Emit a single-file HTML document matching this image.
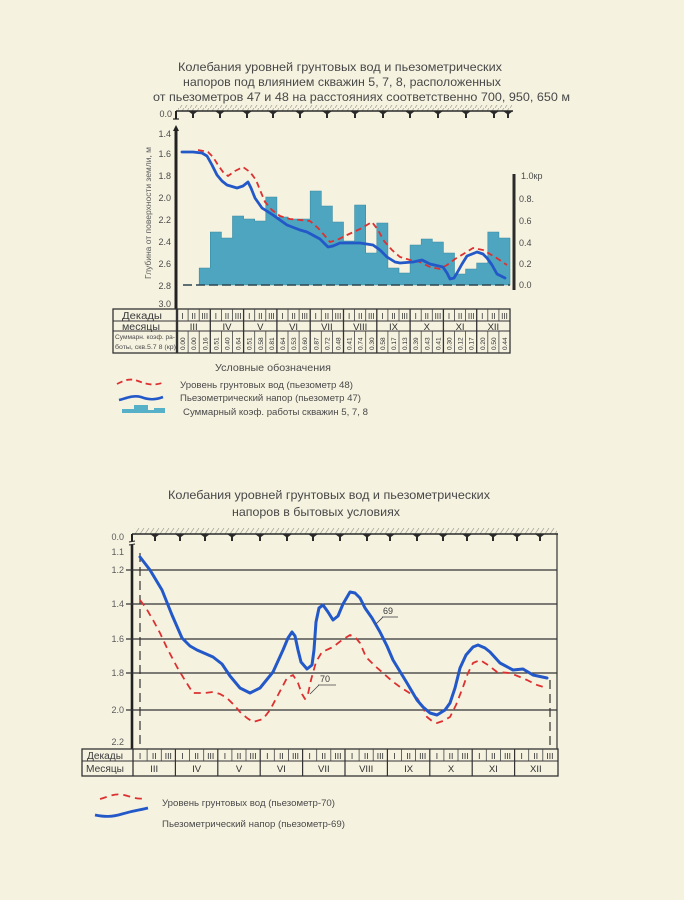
<!DOCTYPE html>
<html><head><meta charset="utf-8">
<style>
html,body{margin:0;padding:0;background:#f5f2e0;}
svg{display:block;}
text{font-family:"Liberation Sans","DejaVu Sans",sans-serif;}
</style></head>
<body>
<svg width="684" height="900" viewBox="0 0 684 900" xmlns="http://www.w3.org/2000/svg">
<defs>
<pattern id="hatch" width="5" height="6" patternUnits="userSpaceOnUse">
<path d="M0,6 L4,0" stroke="#a09e92" stroke-width="0.7"/>
</pattern>
</defs>
<rect x="0" y="0" width="684" height="900" fill="#f5f2e0"/>

<!-- ================= TOP TITLE ================= -->
<g fill="#484848" font-size="12">
<text x="178" y="71" textLength="324" lengthAdjust="spacingAndGlyphs">Колебания уровней грунтовых вод и  пьезометрических</text>
<text x="183" y="86" textLength="318" lengthAdjust="spacingAndGlyphs">напоров под влиянием  скважин 5, 7, 8, расположенных</text>
<text x="153" y="101" textLength="417" lengthAdjust="spacingAndGlyphs">от пьезометров 47 и 48  на расстояниях соответственно 700, 950, 650 м</text>
</g>

<!-- ================= TOP CHART ================= -->
<rect x="178" y="105" width="334" height="6" fill="url(#hatch)"/>
<line x1="176" y1="111" x2="513" y2="111" stroke="#2a2a2a" stroke-width="1.6"/>
<g fill="#2a2a2a">
<path d="M188,111 h10 l-4,3 v4 h-2 v-4 z"/>
<path d="M215,111 h10 l-4,3 v4 h-2 v-4 z"/>
<path d="M242,111 h10 l-4,3 v4 h-2 v-4 z"/>
<path d="M268,111 h10 l-4,3 v4 h-2 v-4 z"/>
<path d="M295,111 h10 l-4,3 v4 h-2 v-4 z"/>
<path d="M322,111 h10 l-4,3 v4 h-2 v-4 z"/>
<path d="M350,111 h10 l-4,3 v4 h-2 v-4 z"/>
<path d="M378,111 h10 l-4,3 v4 h-2 v-4 z"/>
<path d="M405,111 h10 l-4,3 v4 h-2 v-4 z"/>
<path d="M433,111 h10 l-4,3 v4 h-2 v-4 z"/>
<path d="M461,111 h10 l-4,3 v4 h-2 v-4 z"/>
<path d="M489,111 h10 l-4,3 v4 h-2 v-4 z"/>
<path d="M503,111 h10 l-4,3 v4 h-2 v-4 z"/>
</g>
<line x1="176" y1="111" x2="176" y2="119" stroke="#222" stroke-width="2"/>
<line x1="173" y1="119" x2="179" y2="119" stroke="#222" stroke-width="1.2"/>
<line x1="176" y1="130" x2="176" y2="309" stroke="#222" stroke-width="3"/>
<path d="M173,131 L176,125 L179,131 Z" fill="#222"/>
<g fill="#4a4a4a" font-size="9" text-anchor="end">
<text x="172" y="117">0.0</text>
<text x="171" y="137">1.4</text>
<text x="171" y="157">1.6</text>
<text x="171" y="179">1.8</text>
<text x="171" y="201">2.0</text>
<text x="171" y="223">2.2</text>
<text x="171" y="245">2.4</text>
<text x="171" y="267">2.6</text>
<text x="171" y="289">2.8</text>
<text x="171" y="307">3.0</text>
</g>
<text transform="translate(151,279) rotate(-90)" fill="#5a5a5a" font-size="8.5" textLength="132" lengthAdjust="spacingAndGlyphs">Глубина от поверхности земли, м</text>

<path d="M199.2,285 V268 H210.3 V232 H221.4 V238 H232.5 V216 H243.6 V219 H254.7 V221 H265.8 V197 H276.9 V217 H288 V219 H299.1 V219 H310.2 V191 H321.3 V206 H332.4 V222 H343.5 V241 H354.6 V205 H365.7 V253 H376.8 V223 H387.9 V268 H399 V273 H410.1 V245 H421.2 V239 H432.3 V242 H443.4 V253 H454.5 V274 H465.6 V269 H476.7 V263 H487.8 V232 H498.9 V238 H510 V285 Z" fill="#4ea5bf" stroke="#3a8aa3" stroke-width="0.6"/>
<line x1="183" y1="285" x2="510" y2="285" stroke="#2b4650" stroke-width="1.4" stroke-dasharray="9,4"/>

<rect x="512.5" y="174" width="3" height="116" fill="#2a2a2a"/>
<g fill="#4a4a4a" font-size="9">
<text x="521" y="179">1.0кр</text>
<text x="519" y="202">0.8.</text>
<text x="519" y="224">0.6</text>
<text x="519" y="246">0.4</text>
<text x="519" y="267">0.2</text>
<text x="519" y="288">0.0</text>
</g>

<polyline fill="none" stroke="#dd3030" stroke-width="1.8" stroke-dasharray="6,4" stroke-linejoin="round"
points="198,150 208,152 213,157 218,165 223,172 228,176 235,171 243,167 250,172 256,180 260,190 265,202 272,210 280,216 290,219 300,220 310,221 318,228 325,236 330,242 337,240 347,235 360,229 372,222 378,230 384,241 392,250 400,257 410,260 420,262 430,267 440,269 447,265 455,259 465,253 473,248 483,250 495,257 507,265"/>
<polyline fill="none" stroke="#2358c8" stroke-width="2.8" stroke-linejoin="round" stroke-linecap="round"
points="182,152 193,152 202,153 207,156 212,165 217,175 222,181 227,185 237,188 243,186 248,182 251,188 255,198 262,208 273,215 287,225 300,230 307,232 320,239 328,247 333,246 340,243 360,243 373,245 380,250 387,257 395,262 400,263 413,262 422,260 430,264 443,267 447,273 450,279 454,278 457,273 462,264 467,256 477,252 483,254 487,258 492,265 497,274 505,278"/>

<!-- ================= TOP TABLE ================= -->
<g stroke="#333" fill="none">
<rect x="113" y="309" width="397" height="44" stroke-width="1.3"/>
<line x1="113" y1="321" x2="510" y2="321" stroke-width="1"/>
<line x1="113" y1="331" x2="510" y2="331" stroke-width="1"/>
<line x1="177" y1="309" x2="177" y2="353" stroke-width="2.4"/>
</g>
<g stroke="#444" stroke-width="0.8">
<path d="M188.1,309V321M199.2,309V321M221.4,309V321M232.5,309V321M254.7,309V321M265.8,309V321M288,309V321M299.1,309V321M321.3,309V321M332.4,309V321M354.6,309V321M365.7,309V321M387.9,309V321M399,309V321M421.2,309V321M432.3,309V321M454.5,309V321M465.6,309V321M487.8,309V321M498.9,309V321"/>
<path d="M188.1,331V353M199.2,331V353M221.4,331V353M232.5,331V353M254.7,331V353M265.8,331V353M288,331V353M299.1,331V353M321.3,331V353M332.4,331V353M354.6,331V353M365.7,331V353M387.9,331V353M399,331V353M421.2,331V353M432.3,331V353M454.5,331V353M465.6,331V353M487.8,331V353M498.9,331V353"/>
</g>
<g stroke="#333" stroke-width="1.3">
<path d="M210.3,309V353M243.6,309V353M276.9,309V353M310.2,309V353M343.5,309V353M376.8,309V353M410.1,309V353M443.4,309V353M476.7,309V353"/>
</g>
<g fill="#3a3a3a" font-size="10">
<text x="122" y="319" textLength="40" lengthAdjust="spacingAndGlyphs">Декады</text>
<text x="122" y="330" textLength="38" lengthAdjust="spacingAndGlyphs">месяцы</text>
</g>
<g fill="#4a4a4a" font-size="6">
<text x="115" y="339" textLength="60" lengthAdjust="spacingAndGlyphs">Суммарн. коэф. ра-</text>
<text x="115" y="349" textLength="61" lengthAdjust="spacingAndGlyphs">боты, скв.5.7 8 (кр)</text>
</g>
<g fill="#2e2e2e" font-size="8" text-anchor="middle">
<text x="182.6" y="319">I</text><text x="193.7" y="319">II</text><text x="204.8" y="319">III</text>
<text x="215.9" y="319">I</text><text x="227" y="319">II</text><text x="238.1" y="319">III</text>
<text x="249.2" y="319">I</text><text x="260.3" y="319">II</text><text x="271.4" y="319">III</text>
<text x="282.5" y="319">I</text><text x="293.6" y="319">II</text><text x="304.7" y="319">III</text>
<text x="315.8" y="319">I</text><text x="326.9" y="319">II</text><text x="338" y="319">III</text>
<text x="349.1" y="319">I</text><text x="360.2" y="319">II</text><text x="371.3" y="319">III</text>
<text x="382.4" y="319">I</text><text x="393.5" y="319">II</text><text x="404.6" y="319">III</text>
<text x="415.7" y="319">I</text><text x="426.8" y="319">II</text><text x="437.9" y="319">III</text>
<text x="449" y="319">I</text><text x="460.1" y="319">II</text><text x="471.2" y="319">III</text>
<text x="482.3" y="319">I</text><text x="493.4" y="319">II</text><text x="504.5" y="319">III</text>
</g>
<g fill="#2e2e2e" font-size="9.5" text-anchor="middle">
<text x="193.7" y="330">III</text><text x="227" y="330">IV</text><text x="260.3" y="330">V</text>
<text x="293.6" y="330">VI</text><text x="326.9" y="330">VII</text><text x="360.2" y="330">VIII</text>
<text x="393.5" y="330">IX</text><text x="426.8" y="330">X</text><text x="460.1" y="330">XI</text>
<text x="493.4" y="330">XII</text>
</g>
<g fill="#2e2e2e" font-size="6.5">
<text transform="translate(185.1,350) rotate(-90)">0.00</text>
<text transform="translate(196.2,350) rotate(-90)">0.00</text>
<text transform="translate(207.3,350) rotate(-90)">0.16</text>
<text transform="translate(218.4,350) rotate(-90)">0.51</text>
<text transform="translate(229.5,350) rotate(-90)">0.40</text>
<text transform="translate(240.6,350) rotate(-90)">0.64</text>
<text transform="translate(251.7,350) rotate(-90)">0.51</text>
<text transform="translate(262.8,350) rotate(-90)">0.58</text>
<text transform="translate(273.9,350) rotate(-90)">0.81</text>
<text transform="translate(285,350) rotate(-90)">0.64</text>
<text transform="translate(296.1,350) rotate(-90)">0.53</text>
<text transform="translate(307.2,350) rotate(-90)">0.60</text>
<text transform="translate(318.3,350) rotate(-90)">0.87</text>
<text transform="translate(329.4,350) rotate(-90)">0.72</text>
<text transform="translate(340.5,350) rotate(-90)">0.48</text>
<text transform="translate(351.6,350) rotate(-90)">0.41</text>
<text transform="translate(362.7,350) rotate(-90)">0.74</text>
<text transform="translate(373.8,350) rotate(-90)">0.30</text>
<text transform="translate(384.9,350) rotate(-90)">0.58</text>
<text transform="translate(396,350) rotate(-90)">0.17</text>
<text transform="translate(407.1,350) rotate(-90)">0.13</text>
<text transform="translate(418.2,350) rotate(-90)">0.39</text>
<text transform="translate(429.3,350) rotate(-90)">0.43</text>
<text transform="translate(440.4,350) rotate(-90)">0.41</text>
<text transform="translate(451.5,350) rotate(-90)">0.30</text>
<text transform="translate(462.6,350) rotate(-90)">0.12</text>
<text transform="translate(473.7,350) rotate(-90)">0.17</text>
<text transform="translate(484.8,350) rotate(-90)">0.20</text>
<text transform="translate(495.9,350) rotate(-90)">0.50</text>
<text transform="translate(507,350) rotate(-90)">0.44</text>
</g>

<!-- ================= TOP LEGEND ================= -->
<text x="215" y="371" fill="#4a4a4a" font-size="10.5" textLength="116" lengthAdjust="spacingAndGlyphs">Условные обозначения</text>
<path d="M117,384 C125,380 130,378 138,381 C146,384 152,386 162,383" fill="none" stroke="#dd3030" stroke-width="1.8" stroke-dasharray="6,4"/>
<path d="M119,400 C127,398 133,395 141,397 C149,400 155,400 163,397" fill="none" stroke="#2358c8" stroke-width="2.6"/>
<path d="M122,413 V409 H134 V405 H148 V410 H154 V408 H165 V413 Z" fill="#56b0c8"/>
<g fill="#4a4a4a" font-size="9">
<text x="180" y="388" textLength="173" lengthAdjust="spacingAndGlyphs">Уровень грунтовых вод (пьезометр 48)</text>
<text x="180" y="401" textLength="181" lengthAdjust="spacingAndGlyphs">Пьезометрический напор (пьезометр 47)</text>
<text x="183" y="415" textLength="185" lengthAdjust="spacingAndGlyphs">Суммарный коэф. работы скважин 5, 7, 8</text>
</g>

<!-- ================= BOTTOM TITLE ================= -->
<g fill="#484848" font-size="12">
<text x="168" y="499" textLength="322" lengthAdjust="spacingAndGlyphs">Колебания уровней грунтовых  вод и пьезометрических</text>
<text x="232" y="516" textLength="168" lengthAdjust="spacingAndGlyphs">напоров в бытовых  условиях</text>
</g>

<!-- ================= BOTTOM CHART ================= -->
<rect x="134" y="528" width="423" height="6" fill="url(#hatch)"/>
<line x1="132" y1="534" x2="558" y2="534" stroke="#2a2a2a" stroke-width="1.6"/>
<g fill="#2a2a2a">
<path d="M150,534 h10 l-4,3 v4 h-2 v-4 z"/>
<path d="M175,534 h10 l-4,3 v4 h-2 v-4 z"/>
<path d="M200,534 h10 l-4,3 v4 h-2 v-4 z"/>
<path d="M227,534 h10 l-4,3 v4 h-2 v-4 z"/>
<path d="M255,534 h10 l-4,3 v4 h-2 v-4 z"/>
<path d="M282,534 h10 l-4,3 v4 h-2 v-4 z"/>
<path d="M308,534 h10 l-4,3 v4 h-2 v-4 z"/>
<path d="M335,534 h10 l-4,3 v4 h-2 v-4 z"/>
<path d="M362,534 h10 l-4,3 v4 h-2 v-4 z"/>
<path d="M385,534 h10 l-4,3 v4 h-2 v-4 z"/>
<path d="M412,534 h10 l-4,3 v4 h-2 v-4 z"/>
<path d="M438,534 h10 l-4,3 v4 h-2 v-4 z"/>
<path d="M462,534 h10 l-4,3 v4 h-2 v-4 z"/>
<path d="M488,534 h10 l-4,3 v4 h-2 v-4 z"/>
<path d="M512,534 h10 l-4,3 v4 h-2 v-4 z"/>
<path d="M535,534 h10 l-4,3 v4 h-2 v-4 z"/>
</g>
<line x1="132" y1="534" x2="132" y2="541" stroke="#222" stroke-width="2"/>
<line x1="129" y1="542" x2="135" y2="541" stroke="#222" stroke-width="1"/>
<line x1="129" y1="545" x2="135" y2="544" stroke="#222" stroke-width="1"/>
<line x1="132" y1="545" x2="132" y2="749" stroke="#222" stroke-width="2.6"/>
<line x1="557" y1="534" x2="557" y2="749" stroke="#333" stroke-width="1.2"/>
<g stroke="#333" stroke-width="1.2">
<line x1="126" y1="570" x2="557" y2="570"/>
<line x1="126" y1="604" x2="557" y2="604"/>
<line x1="126" y1="639" x2="557" y2="639"/>
<line x1="126" y1="673" x2="557" y2="673"/>
<line x1="126" y1="710" x2="557" y2="710"/>
</g>
<g fill="#5a5a5a" font-size="9" text-anchor="end">
<text x="124" y="540">0.0</text>
<text x="124" y="555">1.1</text>
<text x="124" y="573">1.2</text>
<text x="124" y="607">1.4</text>
<text x="124" y="642">1.6</text>
<text x="124" y="676">1.8</text>
<text x="124" y="713">2.0</text>
<text x="124" y="745">2.2</text>
</g>
<line x1="140" y1="553" x2="140" y2="746" stroke="#333" stroke-width="1.2" stroke-dasharray="9,5"/>
<line x1="550" y1="680" x2="550" y2="746" stroke="#333" stroke-width="1.2" stroke-dasharray="9,5"/>

<polyline fill="none" stroke="#dd3030" stroke-width="1.8" stroke-dasharray="7,5" stroke-linejoin="round"
points="140,600 146,608 153,620 160,633 167,648 177,667 186,682 193,693 205,693 213,692 220,694 227,698 235,706 240,712 247,718 253,722 263,719 270,710 278,695 287,678 293,675 298,683 302,694 305,699 308,694 311,680 316,662 322,652 333,647 342,640 350,635 355,637 360,643 366,657 375,666 383,673 392,681 400,687 408,692 417,698 422,705 427,717 432,721 437,723 443,721 450,717 456,705 463,687 468,673 473,663 480,660 488,665 497,672 510,673 520,677 527,680 537,685 547,688"/>
<polyline fill="none" stroke="#2358c8" stroke-width="3" stroke-linejoin="round" stroke-linecap="round"
points="140,557 150,570 162,590 172,615 182,638 190,646 197,650 213,657 222,664 230,676 240,688 250,693 260,688 273,672 283,650 288,638 292,632 295,636 298,650 301,662 307,669 312,665 314,650 316,622 319,608 323,605 328,612 333,620 338,616 343,604 350,592 355,593 360,598 365,608 372,618 380,632 387,646 393,660 407,683 417,700 423,707 430,713 437,715 445,710 450,703 455,688 460,668 466,655 473,647 478,645 485,648 490,652 500,663 513,670 523,669 533,675 547,678"/>
<text x="383" y="614" fill="#3a3a3a" font-size="9">69</text>
<line x1="382" y1="617" x2="398" y2="617" stroke="#444" stroke-width="0.8"/>
<line x1="376" y1="624" x2="383" y2="617" stroke="#444" stroke-width="0.8"/>
<text x="320" y="682" fill="#3a3a3a" font-size="9">70</text>
<line x1="318" y1="685" x2="336" y2="685" stroke="#444" stroke-width="0.8"/>
<line x1="310" y1="694" x2="319" y2="685" stroke="#444" stroke-width="0.8"/>

<!-- ================= BOTTOM TABLE ================= -->
<g stroke="#333" fill="none">
<rect x="82" y="749" width="476" height="27" stroke-width="1.3"/>
<line x1="82" y1="761" x2="558" y2="761" stroke-width="1"/>
<line x1="133" y1="749" x2="133" y2="776" stroke-width="1.3"/>
</g>
<g stroke="#444" stroke-width="0.8">
<path d="M147.1,749V761M161.3,749V761M189.5,749V761M203.7,749V761M231.9,749V761M246,749V761M274.3,749V761M288.4,749V761M316.7,749V761M330.8,749V761M359.1,749V761M373.2,749V761M401.5,749V761M415.6,749V761M443.9,749V761M458,749V761M486.3,749V761M500.4,749V761M528.7,749V761M542.8,749V761"/>
</g>
<g stroke="#333" stroke-width="1.2">
<path d="M175.4,749V776M217.8,749V776M260.2,749V776M302.6,749V776M345,749V776M387.4,749V776M429.8,749V776M472.2,749V776M514.6,749V776"/>
</g>
<g fill="#3a3a3a" font-size="10">
<text x="87" y="759" textLength="36" lengthAdjust="spacingAndGlyphs">Декады</text>
<text x="86" y="772" textLength="38" lengthAdjust="spacingAndGlyphs">Месяцы</text>
</g>
<g fill="#2e2e2e" font-size="8.5" text-anchor="middle">
<text x="140.1" y="759">I</text><text x="154.2" y="759">II</text><text x="168.3" y="759">III</text>
<text x="182.5" y="759">I</text><text x="196.6" y="759">II</text><text x="210.7" y="759">III</text>
<text x="224.9" y="759">I</text><text x="239" y="759">II</text><text x="253.1" y="759">III</text>
<text x="267.3" y="759">I</text><text x="281.4" y="759">II</text><text x="295.5" y="759">III</text>
<text x="309.7" y="759">I</text><text x="323.8" y="759">II</text><text x="337.9" y="759">III</text>
<text x="352.1" y="759">I</text><text x="366.2" y="759">II</text><text x="380.3" y="759">III</text>
<text x="394.5" y="759">I</text><text x="408.6" y="759">II</text><text x="422.7" y="759">III</text>
<text x="436.9" y="759">I</text><text x="451" y="759">II</text><text x="465.1" y="759">III</text>
<text x="479.3" y="759">I</text><text x="493.4" y="759">II</text><text x="507.5" y="759">III</text>
<text x="521.7" y="759">I</text><text x="535.8" y="759">II</text><text x="549.9" y="759">III</text>
</g>
<g fill="#2e2e2e" font-size="9.5" text-anchor="middle">
<text x="154.2" y="772">III</text><text x="196.6" y="772">IV</text><text x="239" y="772">V</text>
<text x="281.4" y="772">VI</text><text x="323.8" y="772">VII</text><text x="366.2" y="772">VIII</text>
<text x="408.6" y="772">IX</text><text x="451" y="772">X</text><text x="493.4" y="772">XI</text>
<text x="535.8" y="772">XII</text>
</g>

<!-- ================= BOTTOM LEGEND ================= -->
<path d="M100,799 C110,796 116,793 124,795 C132,797 138,800 146,798" fill="none" stroke="#dd3030" stroke-width="1.8" stroke-dasharray="7,5"/>
<path d="M95,815 C105,817 112,817 122,814 C132,811 140,810 148,808" fill="none" stroke="#2358c8" stroke-width="2.8"/>
<g fill="#4a4a4a" font-size="9">
<text x="162" y="806" textLength="173" lengthAdjust="spacingAndGlyphs">Уровень грунтовых вод (пьезометр-70)</text>
<text x="162" y="827" textLength="183" lengthAdjust="spacingAndGlyphs">Пьезометрический напор (пьезометр-69)</text>
</g>
</svg>
</body></html>
